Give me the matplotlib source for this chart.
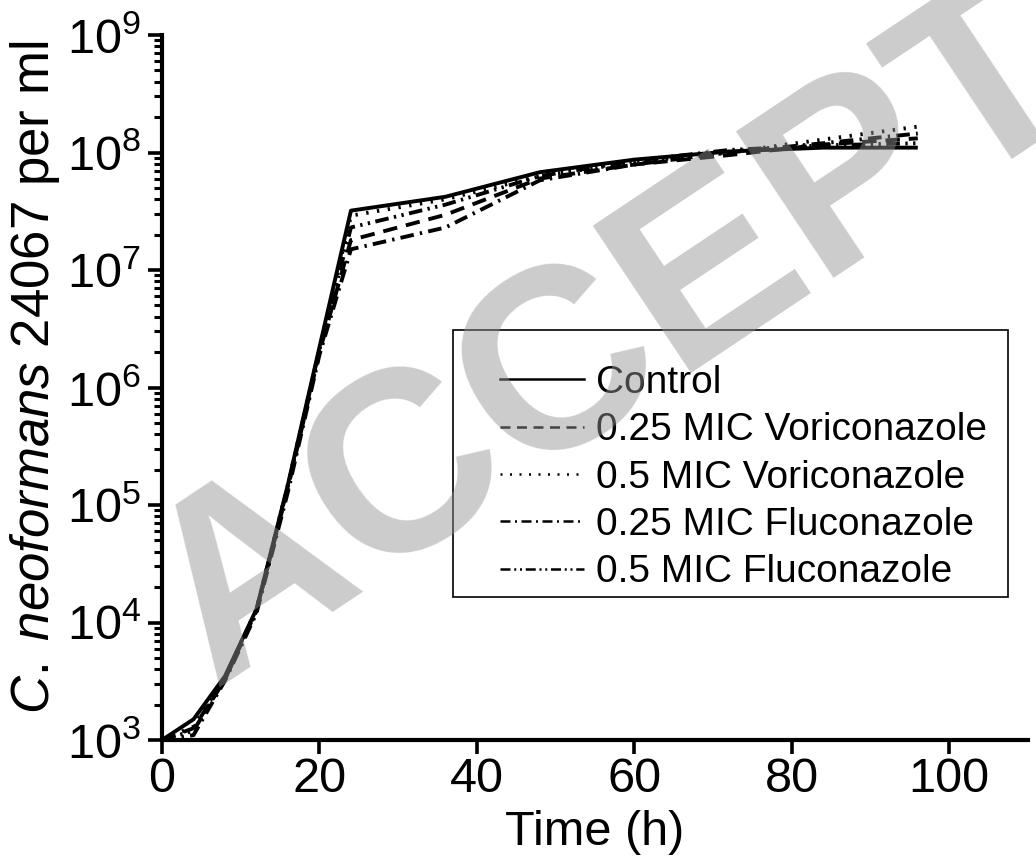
import matplotlib
matplotlib.use("Agg")
import matplotlib.pyplot as plt
from matplotlib.lines import Line2D
from matplotlib.patches import Rectangle
from matplotlib.ticker import LogLocator, NullFormatter, FixedLocator

plt.rcParams['font.family'] = ['Liberation Sans', 'DejaVu Sans']
plt.rcParams['mathtext.fontset'] = 'custom'
plt.rcParams['mathtext.rm'] = 'Liberation Sans'
plt.rcParams['mathtext.it'] = 'Liberation Sans:italic'
plt.rcParams['mathtext.bf'] = 'Liberation Sans:bold'

# ---- data ----
time_h = [0, 4, 8, 12, 16, 20, 24, 36, 48, 60, 72, 84, 96]
control = [1.0e3, 1.5e3, 3.5e3, 1.3e4, 1.5e5, 2.2e6, 3.2e7, 4.2e7, 6.8e7, 8.7e7, 1.02e8, 1.1e8, 1.1e8]
vori_025 = [1.0e3, 1.26e3, 3.3e3, 1.26e4, 1.4e5, 2.0e6, 1.8e7, 2.95e7, 6.0e7, 7.9e7, 9.5e7, 1.17e8, 1.32e8]
vori_05 = [1.0e3, 1.3e3, 3.4e3, 1.3e4, 1.5e5, 2.1e6, 2.9e7, 4.0e7, 6.3e7, 8.3e7, 1.0e8, 1.29e8, 1.66e8]
fluc_025 = [1.0e3, 1.1e3, 3.2e3, 1.2e4, 1.3e5, 1.9e6, 1.5e7, 2.3e7, 5.8e7, 7.9e7, 1.0e8, 1.2e8, 1.45e8]
fluc_05 = [1.0e3, 1.2e3, 3.3e3, 1.26e4, 1.45e5, 2.1e6, 2.3e7, 3.6e7, 6.3e7, 8.5e7, 1.05e8, 1.15e8, 1.2e8]

labels = ["Control", "0.25 MIC Voriconazole", "0.5 MIC Voriconazole",
          "0.25 MIC Fluconazole", "0.5 MIC Fluconazole"]
series = [control, vori_025, vori_05, fluc_025, fluc_05]
x_ticks = [0, 20, 40, 60, 80, 100]

styles = ['-', (0, (3.7, 2.3)), (0, (0.6, 2.2)), (0, (3.5, 1.6, 0.6, 1.6)),
          (0, (3.5, 1.4, 0.6, 1.4, 0.6, 1.4))]
leg_styles = ['-', (0, (4.0, 2.6)), (0, (0.8, 3.0)), (0, (4.0, 1.8, 0.8, 1.8)),
              (0, (4.0, 1.5, 0.8, 1.5, 0.8, 1.5))]

W, H = 1036, 867
fig = plt.figure(figsize=(W / 100, H / 100), dpi=100)
ax = fig.add_axes([162 / W, 1 - 740 / H, (1028 - 162) / W, (740 - 35) / H])

for vals, ls in zip(series, styles):
    ax.plot(time_h, vals, color='black', lw=2.8, linestyle=ls,
            solid_capstyle='butt', dash_capstyle='butt')

ax.set_yscale('log')
ax.set_ylim(1e3, 1e9)
ax.set_xlim(0, 110)
ax.xaxis.set_major_locator(FixedLocator(x_ticks))
ax.yaxis.set_major_locator(LogLocator(base=10, numticks=20))
ax.yaxis.set_minor_locator(LogLocator(base=10, subs=range(2, 10), numticks=20))
ax.yaxis.set_minor_formatter(NullFormatter())

for s in ['top', 'right']:
    ax.spines[s].set_visible(False)
for s in ['left', 'bottom']:
    ax.spines[s].set_linewidth(3.0)

ax.tick_params(axis='both', which='major', direction='out', length=10, width=2.6,
               labelsize=35, pad=5)
ax.tick_params(axis='x', which='major', pad=2)
ax.tick_params(axis='y', which='minor', direction='out', length=6, width=2.2)

ax.set_xlabel("Time (h)", fontsize=35, labelpad=6)
ax.set_ylabel(r"$\mathit{C.}\;\mathit{neoformans}$ 24067 per ml", fontsize=38)
ax.yaxis.set_label_coords((62 - 162) / (1028 - 162), 0.515)

# legend
handles = [Line2D([0], [0], color='black', lw=1.8, linestyle=ls) for ls in leg_styles]
leg = ax.legend(handles, labels, loc='upper left',
                bbox_to_anchor=((500 - 162) / (1028 - 162), (740 - 365) / (740 - 35)),
                frameon=False, fontsize=28, handlelength=2.15, handletextpad=0.33,
                labelspacing=0.29, borderaxespad=0, borderpad=0)
fig.patches.append(Rectangle((453 / W, 1 - 597 / H), (1008 - 453) / W, (597 - 330) / H,
                             transform=fig.transFigure, fill=False, edgecolor='black',
                             lw=1.2, zorder=5))

# watermark overlay
fig.text(765 / W, 1 - 240 / H, "ACCEPTED", fontsize=185, fontweight='bold',
         color='#929292', alpha=0.47, rotation=33.7, ha='center', va='center',
         rotation_mode='anchor', zorder=20)

fig.savefig("out.png", dpi=100)
